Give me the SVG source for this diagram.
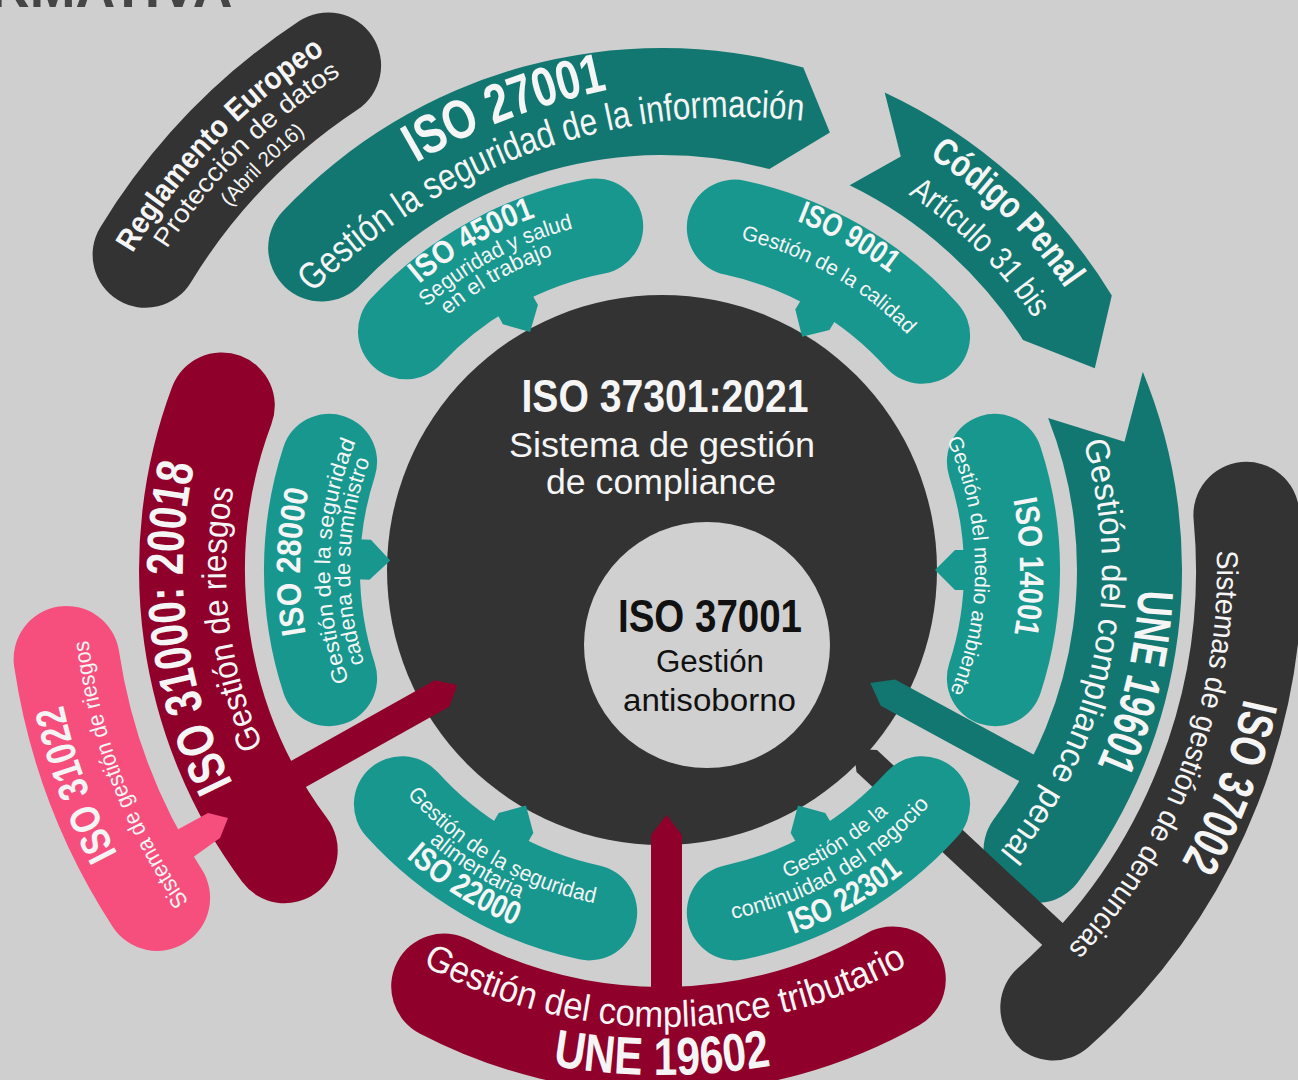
<svg xmlns="http://www.w3.org/2000/svg" width="1298" height="1080" viewBox="0 0 1298 1080">
<style>
text { font-family: "Liberation Sans", Arial, sans-serif; }
.w { fill: #f5f5f5; }
.k { fill: #111111; }
.b { font-weight: bold; }
.pill { fill: none; stroke: #18978f; stroke-width: 96; stroke-linecap: round; }
.band { fill: none; stroke-width: 106; stroke-linecap: round; }
.teal { fill: #18978f; }
.dteal { fill: #137771; }
.maroon { fill: #8f002b; }
.dark { fill: #333333; }
.pink { fill: #f64f7e; }
</style>
<defs>
<path id="p_reg1" d="M46.4 528.0 A617 617 0 0 1 596.4 -43.5"/>
<path id="p_reg2" d="M74.2 518.6 A590 590 0 0 1 610.6 -17.8"/>
<path id="p_reg3" d="M100.5 516.9 A564 564 0 0 1 616.8 7.8"/>
<path id="p_27a" d="M173.8 408.9 A648 648 0 0 1 952.0 111.7"/>
<path id="p_27b" d="M199.5 453.9 A594 594 0 0 1 992.1 175.5"/>
<path id="p_cp1" d="M696.3 79.2 A492 492 0 0 1 1151.3 518.6"/>
<path id="p_cp2" d="M698.0 122.4 A449 449 0 0 1 1109.0 527.7"/>
<path id="p_un1a" d="M1088.0 355.3 A477 477 0 0 1 947.4 952.2"/>
<path id="p_un1b" d="M1006.3 296.1 A440 440 0 0 1 871.9 956.7"/>
<path id="p_372a" d="M1225.2 375.0 A596 596 0 0 1 951.8 1090.8"/>
<path id="p_372b" d="M1185.2 384.7 A555 555 0 0 1 935.3 1053.0"/>
<path id="p_310a" d="M334.6 919.7 A479 479 0 0 1 260.7 308.4"/>
<path id="p_310b" d="M361.9 886.3 A436 436 0 0 1 298.4 329.4"/>
<path id="p_312a" d="M268.1 1041.0 A614 614 0 0 1 57.1 464.4"/>
<path id="p_312b" d="M338.8 1049.2 A578 578 0 0 1 101.2 430.2"/>
<path id="p_un2a" d="M307.9 879.1 A505 505 0 0 0 1022.1 879.1"/>
<path id="p_un2b" d="M343 989.5 A638 638 0 0 0 981 989.5"/>
<path id="p_220a" d="M322 570 A340 340 0 0 0 832 864.4"/>
<path id="p_220b" d="M304.2 557.5 A358 358 0 0 0 830.1 886.1"/>
<path id="p_220c" d="M277.3 555.9 A385 385 0 0 0 842.2 910.3"/>
<path id="p_223a" d="M508.7 864.5 A332 332 0 0 0 993.7 555.5"/>
<path id="p_223b" d="M484.5 878.6 A356 356 0 0 0 1018.0 569.4"/>
<path id="p_223c" d="M463.8 902.4 A387 387 0 0 0 1049.0 575.4"/>
<path id="p_140a" d="M838.3 258.4 A358 358 0 0 1 843.7 878.5"/>
<path id="p_140b" d="M814.7 296.8 A313 313 0 0 1 822.3 838.9"/>
<path id="p_280a" d="M473.9 879.3 A362 362 0 0 1 488.2 252.5"/>
<path id="p_280b" d="M488.0 852.8 A332 332 0 0 1 504.1 278.0"/>
<path id="p_280c" d="M498.5 835.7 A312 312 0 0 1 513.6 295.5"/>
<path id="p_450a" d="M287 570 A375 375 0 0 1 849.5 245.2"/>
<path id="p_450b" d="M309.2 558.9 A353 353 0 0 1 848.0 270.0"/>
<path id="p_450c" d="M329.0 567.7 A333 333 0 0 1 830.5 282.8"/>
<path id="p_90a" d="M471.1 248.4 A374 374 0 0 1 1036.0 565.4"/>
<path id="p_90b" d="M491.0 276.1 A340 340 0 0 1 1002.0 568.8"/>
</defs>

<rect width="1298" height="1080" fill="#cfcfcf"/>

<g id="title">
<text x="-10" y="7" font-size="55" class="b" fill="#454545">RMATIVA</text>
</g>

<g id="iso37301">
<circle cx="662" cy="570" r="275" class="dark"/>
<text x="665" y="412" font-size="46" class="w b" text-anchor="middle" textLength="287" lengthAdjust="spacingAndGlyphs">ISO 37301:2021</text>
<text x="662" y="457" font-size="35" class="w" text-anchor="middle" textLength="306" lengthAdjust="spacingAndGlyphs">Sistema de gestión</text>
<text x="661" y="494" font-size="35" class="w" text-anchor="middle" textLength="230" lengthAdjust="spacingAndGlyphs">de compliance</text>
</g>

<g id="iso37001">
<circle cx="707" cy="645" r="123" fill="#d0d0d0"/>
<text x="710" y="632" font-size="46" class="k b" text-anchor="middle" textLength="184" lengthAdjust="spacingAndGlyphs">ISO 37001</text>
<text x="710" y="672" font-size="31" class="k" text-anchor="middle" textLength="108" lengthAdjust="spacingAndGlyphs">Gestión</text>
<text x="709.5" y="711" font-size="31" class="k" text-anchor="middle" textLength="173" lengthAdjust="spacingAndGlyphs">antisoborno</text>
</g>

<g id="reglamento-europeo">
<path d="M145.6 254.8 A605 605 0 0 1 328.1 65.5" class="band" stroke="#333333"/>
<text class="w b" font-size="31" text-anchor="middle"><textPath href="#p_reg1" startOffset="50%" textLength="280" lengthAdjust="spacingAndGlyphs">Reglamento Europeo</textPath></text>
<text class="w" font-size="26" text-anchor="middle"><textPath href="#p_reg2" startOffset="50%" textLength="248" lengthAdjust="spacingAndGlyphs">Protección de datos</textPath></text>
<text class="w" font-size="21" text-anchor="middle"><textPath href="#p_reg3" startOffset="50%" textLength="106" lengthAdjust="spacingAndGlyphs">(Abril 2016)</textPath></text>
</g>

<g id="iso37002">
<path d="M1246.4 514.8 A587 587 0 0 1 1053.3 1007.6" class="band" stroke="#333333"/>
<text class="w b" font-size="50" text-anchor="middle"><textPath href="#p_372a" startOffset="50%" textLength="176" lengthAdjust="spacingAndGlyphs">ISO 37002</textPath></text>
<text class="w" font-size="30" text-anchor="middle"><textPath href="#p_372b" startOffset="50%" textLength="436" lengthAdjust="spacingAndGlyphs">Sistemas de gestión de denuncias</textPath></text>
</g>

<g id="iso31022">
<path d="M157.1 897.9 A602 602 0 0 1 66.6 659.0" class="band" stroke="#f64f7e"/>
<text class="w b" font-size="42" text-anchor="middle"><textPath href="#p_312a" startOffset="50%" textLength="159" lengthAdjust="spacingAndGlyphs">ISO 31022</textPath></text>
<text class="w" font-size="23" text-anchor="middle"><textPath href="#p_312b" startOffset="50%" textLength="283" lengthAdjust="spacingAndGlyphs">Sistema de gestión de riesgos</textPath></text>
</g>

<g id="iso27001">
<path d="M803.3 67.5 A522 522 0 0 0 282.8 211.2 A53.5 53.5 0 0 0 360.6 284.8 A415 415 0 0 1 769.4 169.1 L829.9 132.6 Z" class="dteal"/>
<text class="w b" font-size="55" text-anchor="middle"><textPath href="#p_27a" startOffset="50%" textLength="206" lengthAdjust="spacingAndGlyphs">ISO 27001</textPath></text>
<text class="w" font-size="38" text-anchor="middle"><textPath href="#p_27b" startOffset="50%" textLength="538" lengthAdjust="spacingAndGlyphs">Gestión la seguridad de la información</textPath></text>
</g>

<g id="codigo-penal">
<path d="M884.7 92.4 A527 527 0 0 1 1111.8 295.4 L1094.8 368.2 L1023.0 340.0 A428 428 0 0 0 849.6 185.3 L900.8 156.5 Z" class="dteal"/>
<text class="w b" font-size="38" text-anchor="middle"><textPath href="#p_cp1" startOffset="50%" textLength="191" lengthAdjust="spacingAndGlyphs">Código Penal</textPath></text>
<text class="w" font-size="33" text-anchor="middle"><textPath href="#p_cp2" startOffset="50%" textLength="178" lengthAdjust="spacingAndGlyphs">Artículo 31 bis</textPath></text>
</g>

<g id="une19601">
<path d="M1142.8 371.8 A520 520 0 0 1 1077.3 882.9 A52.5 52.5 0 0 1 993.4 819.8 A415 415 0 0 0 1048.1 417.9 L1124.5 441.7 Z" class="dteal"/>
<text class="w b" font-size="50" text-anchor="middle"><textPath href="#p_un1a" startOffset="50%" textLength="181" lengthAdjust="spacingAndGlyphs">UNE 19601</textPath></text>
<text class="w" font-size="34" text-anchor="middle"><textPath href="#p_un1b" startOffset="50%" textLength="436" lengthAdjust="spacingAndGlyphs">Gestión del compliance penal</textPath></text>
</g>

<g id="iso31000">
<path d="M284.7 850.2 A470 470 0 0 1 221.8 405.4" class="band" stroke="#8f002b" stroke-width="104"/>
<text class="w b" font-size="52" text-anchor="middle"><textPath href="#p_310a" startOffset="50%" textLength="327" lengthAdjust="spacingAndGlyphs">ISO 31000: 20018</textPath></text>
<text class="w" font-size="34" text-anchor="middle"><textPath href="#p_310b" startOffset="50%" textLength="263" lengthAdjust="spacingAndGlyphs">Gestión de riesgos</textPath></text>
</g>

<g id="une19602">
<path d="M892.8 979.4 A470 470 0 0 1 444.2 986.5" class="band" stroke="#8f002b"/>
<text class="w" font-size="37" text-anchor="middle"><textPath href="#p_un2a" startOffset="50%" textLength="506" lengthAdjust="spacingAndGlyphs">Gestión del compliance tributario</textPath></text>
<text class="w b" font-size="53" text-anchor="middle"><textPath href="#p_un2b" startOffset="50%" textLength="220" lengthAdjust="spacingAndGlyphs">UNE 19602</textPath></text>
</g>

<g id="connectors">
<polygon points="877.0,750.0 1068.6,928.6 1048.2,950.6 856.5,772.0 853.6,748.7" class="dark"/>
<polygon points="895.1,679.4 1042.7,759.6 1028.3,786.0 880.7,705.8 870.3,683.1" class="dteal"/>
<polygon points="434.9,680.2 279.7,767.3 294.3,793.5 449.5,706.4 457.1,685.0" class="maroon"/>
<polygon points="651,995 651,835 666.5,815 682,835 682,995" class="maroon"/>
<polygon points="175,831 208,813 228,818 220,838 192,858" class="pink"/>
<polygon points="524.4,280.4 537.9,304.9 530.1,332.1 502.9,324.3 489.4,299.8" class="teal"/>
<polygon points="843.9,306.0 829.5,330.0 802.1,336.8 795.3,309.4 809.7,285.4" class="teal"/>
<polygon points="982,590 955,590 935,570 955,550 982,550" class="teal"/>
<polygon points="804.7,857.1 790.7,832.9 798,805.6 825.3,812.9 839.3,837.1" class="teal"/>
<polygon points="484.7,837.1 498.7,812.9 526,805.6 533.3,832.9 519.3,857.1" class="teal"/>
<polygon points="342.9,538.8 370.9,539.8 390.2,560.5 369.5,579.8 341.5,578.8" class="teal"/>
</g>

<g id="iso45001">
<path d="M406.0 331.3 A350 350 0 0 1 595.2 226.4" class="pill"/>
<text class="w b" font-size="32" text-anchor="middle"><textPath href="#p_450a" startOffset="50%" textLength="135" lengthAdjust="spacingAndGlyphs">ISO 45001</textPath></text>
<text class="w" font-size="22" text-anchor="middle"><textPath href="#p_450b" startOffset="50%" textLength="168" lengthAdjust="spacingAndGlyphs">Seguridad y salud</textPath></text>
<text class="w" font-size="22" text-anchor="middle"><textPath href="#p_450c" startOffset="50%" textLength="122" lengthAdjust="spacingAndGlyphs">en el trabajo</textPath></text>
</g>

<g id="iso9001">
<path d="M734.8 227.6 A350 350 0 0 1 922.1 335.8" class="pill"/>
<text class="w b" font-size="32" text-anchor="middle"><textPath href="#p_90a" startOffset="50%" textLength="107" lengthAdjust="spacingAndGlyphs">ISO 9001</textPath></text>
<text class="w" font-size="21" text-anchor="middle"><textPath href="#p_90b" startOffset="50%" textLength="195" lengthAdjust="spacingAndGlyphs">Gestión de la calidad</textPath></text>
</g>

<g id="iso14001">
<path d="M994.9 461.8 A350 350 0 0 1 994.9 678.2" class="pill"/>
<text class="w b" font-size="34" text-anchor="middle"><textPath href="#p_140a" startOffset="50%" textLength="135" lengthAdjust="spacingAndGlyphs">ISO 14001</textPath></text>
<text class="w" font-size="21" text-anchor="middle"><textPath href="#p_140b" startOffset="50%" textLength="260" lengthAdjust="spacingAndGlyphs">Gestión del medio ambiente</textPath></text>
</g>

<g id="iso22301">
<path d="M922.1 804.2 A350 350 0 0 1 734.8 912.4" class="pill"/>
<text class="w" font-size="21" text-anchor="middle"><textPath href="#p_223a" startOffset="50%" textLength="122" lengthAdjust="spacingAndGlyphs">Gestión de la</textPath></text>
<text class="w" font-size="22" text-anchor="middle"><textPath href="#p_223b" startOffset="50%" textLength="232" lengthAdjust="spacingAndGlyphs">continuidad del negocio</textPath></text>
<text class="w b" font-size="33" text-anchor="middle"><textPath href="#p_223c" startOffset="50%" textLength="126" lengthAdjust="spacingAndGlyphs">ISO 22301</textPath></text>
</g>

<g id="iso22000">
<path d="M589.2 912.4 A350 350 0 0 1 401.9 804.2" class="pill"/>
<text class="w" font-size="22" text-anchor="middle"><textPath href="#p_220a" startOffset="50%" textLength="220" lengthAdjust="spacingAndGlyphs">Gestión de la seguridad</textPath></text>
<text class="w" font-size="22" text-anchor="middle"><textPath href="#p_220b" startOffset="50%">alimentaria</textPath></text>
<text class="w b" font-size="33" text-anchor="middle"><textPath href="#p_220c" startOffset="50%" textLength="129" lengthAdjust="spacingAndGlyphs">ISO 22000</textPath></text>
</g>

<g id="iso28000">
<path d="M329.1 678.2 A350 350 0 0 1 329.1 461.8" class="pill"/>
<text class="w b" font-size="34" text-anchor="middle"><textPath href="#p_280a" startOffset="50%" textLength="145" lengthAdjust="spacingAndGlyphs">ISO 28000</textPath></text>
<text class="w" font-size="22" text-anchor="middle"><textPath href="#p_280b" startOffset="50%" textLength="245" lengthAdjust="spacingAndGlyphs">Gestión de la seguridad</textPath></text>
<text class="w" font-size="22" text-anchor="middle"><textPath href="#p_280c" startOffset="50%" textLength="207" lengthAdjust="spacingAndGlyphs">cadena de suministro</textPath></text>
</g>
</svg>
